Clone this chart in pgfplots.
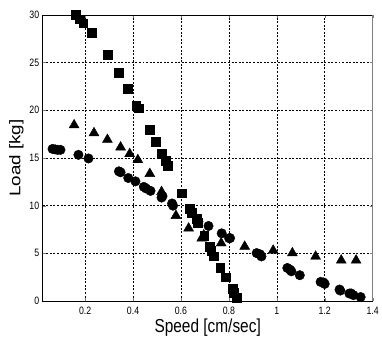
\documentclass[border=0pt]{standalone}
\usepackage{fontspec}
\setmainfont[FakeStretch=0.82]{Liberation Sans}
\newfontfamily\plainsans{Liberation Sans}
\usepackage{pgfplots}
\pgfplotsset{compat=1.18}
\begin{document}
\begin{tikzpicture}
\begin{axis}[
  scale only axis, width=332bp, height=288bp,
  xmin=0.023, xmax=1.4, ymin=0, ymax=30,
  xtick={0.2,0.4,0.6,0.8,1,1.2,1.4},
  xticklabels={0.2,0.4,0.6,0.8,1,1.2,1.4},
  ytick={0,5,10,15,20,25,30},
  yticklabels={0,5,10,15,20,25,30},
  tick label style={font=\fontsize{10.8}{12}\selectfont},
  grid=major,
  major grid style={black, line width=0.5pt, dash pattern=on 2pt off 1.6pt},
  tick align=inside, major tick length=3pt,
  axis line style={line width=0.6pt},
  xlabel={Speed [cm/sec]},
  ylabel={\plainsans\scalebox{1}[0.82]{Load [kg]}},
  label style={font=\fontsize{19}{20}\selectfont},
  xlabel style={yshift=3pt},
  ylabel style={yshift=-1pt},
  xticklabel style={yshift=-3pt},
]
\addplot[only marks, mark=square*, mark size=4.4, black] coordinates {
(0.161,30.0)(0.178,29.55)(0.192,29.13)(0.228,28.1)(0.293,25.84)(0.341,23.93)
(0.379,22.27)(0.413,20.53)(0.424,20.22)(0.471,17.93)(0.494,16.71)(0.521,15.43)
(0.535,14.74)(0.546,14.2)(0.604,11.3)(0.636,9.71)(0.646,9.3)(0.666,8.67)
(0.670,8.2)(0.697,6.85)(0.720,5.7)(0.726,5.3)(0.736,4.7)(0.764,3.47)
(0.787,2.5)(0.815,1.3)(0.820,0.9)(0.832,0.35)
};
\addplot[only marks, mark=triangle*, mark size=5.8, black] coordinates {
(0.154,18.45)(0.237,17.62)(0.293,16.92)(0.348,16.13)(0.386,15.43)(0.420,14.8)
(0.470,13.35)(0.519,11.45)(0.579,8.95)(0.632,7.63)(0.687,6.59)(0.695,6.9)
(0.768,6.07)(0.866,5.72)(0.985,5.31)(1.065,5.03)(1.162,4.68)(1.269,4.27)(1.331,4.27)
};
\addplot[only marks, mark=*, mark size=4.8, black] coordinates {
(0.064,15.95)(0.075,15.9)(0.085,15.85)(0.097,15.85)(0.172,15.33)(0.214,14.95)
(0.341,13.6)(0.348,13.5)(0.380,12.9)(0.410,12.55)(0.445,11.97)(0.455,11.8)
(0.473,11.55)(0.519,10.85)(0.523,11.0)(0.563,10.23)(0.567,10.0)(0.673,8.32)
(0.715,7.87)(0.770,7.1)(0.801,6.59)(0.805,6.6)(0.916,5.03)(0.930,4.9)(0.936,4.68)
(1.044,3.47)(1.055,3.3)(1.061,3.12)(1.096,2.71)(1.183,2.01)(1.195,1.95)(1.200,1.8)
(1.262,1.21)(1.265,1.1)(1.303,0.79)(1.310,0.8)(1.320,0.62)(1.350,0.42)
};
\coordinate (sw) at (rel axis cs:0,0);
\coordinate (ne) at (rel axis cs:1,1);
\end{axis}
\draw[gray, line width=1.2pt] (ne) -- (ne |- sw);
\path ([shift={(-43bp,-37bp)}]sw) rectangle ([shift={(7bp,15bp)}]ne);
\end{tikzpicture}
\end{document}
